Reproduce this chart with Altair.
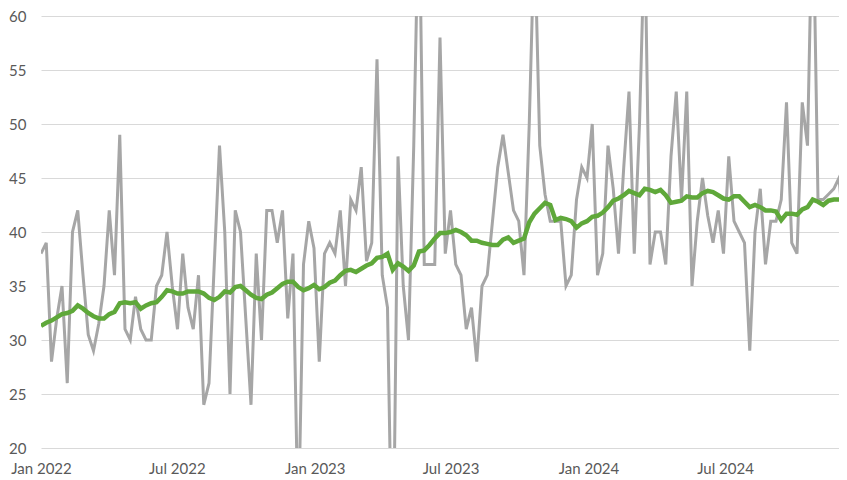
import altair as alt
import pandas as pd

start_date = "2022-01-01"
x_domain = ["2022-01-01", "2024-11-30"]
tick_dates = ["2022-01-01", "2022-07-01", "2023-01-01", "2023-07-01", "2024-01-01", "2024-07-01"]
y_ticks = [20, 25, 30, 35, 40, 45, 50, 55, 60]

weekly = [
    38, 39, 28, 32, 35, 26, 40, 42, 36, 30.5, 29, 31.5, 35, 42, 36, 49, 31, 30, 34, 31,
    30, 30, 35, 36, 40, 35, 31, 38, 33, 31, 36, 24, 26, 37, 48, 40, 25, 42, 40, 32,
    24, 38, 30, 42, 42, 39, 42, 32, 38, 12, 37, 41, 38.5, 28, 38, 39, 38, 42, 35, 43,
    42, 46, 37.3, 39, 56, 36, 33, 5, 47, 35, 30, 48, 72, 37, 37, 37, 58, 38, 42, 37,
    36, 31, 33, 28, 35, 36, 41, 46, 49, 45.5, 42, 41, 36, 50, 68, 48, 43.5, 41, 41, 41,
    35, 36, 43, 46, 45, 50, 36, 38, 48, 44, 38, 46, 53, 38, 50, 68, 37, 40, 40, 37,
    47, 53, 43, 53, 35, 41, 45, 41.5, 39, 42, 38, 47, 41, 40, 39, 29, 40, 44, 37, 41,
    41, 43, 52, 39, 38, 52, 48, 72, 43, 43, 43.5, 44, 45, 39.5,
]

trend = [
    31.3, 31.6, 31.8, 32.1, 32.4, 32.5, 32.7, 33.2, 32.9, 32.5, 32.2, 32.0, 32.0, 32.4, 32.6, 33.4, 33.5, 33.4, 33.5, 32.9,
    33.2, 33.4, 33.5, 34.0, 34.6, 34.5, 34.3, 34.3, 34.5, 34.5, 34.5, 34.3, 33.9, 33.7, 34.0, 34.5, 34.4, 34.9, 35.0, 34.6,
    34.2, 33.9, 33.8, 34.2, 34.4, 34.8, 35.2, 35.4, 35.4, 34.9, 34.6, 34.8, 35.1, 34.7, 34.9, 35.3, 35.5, 36.0, 36.4, 36.5,
    36.3, 36.6, 36.9, 37.1, 37.6, 37.7, 38.0, 36.5, 37.1, 36.8, 36.4, 36.9, 38.2, 38.3, 38.8, 39.4, 39.9, 39.9, 40.0, 40.2,
    40.0, 39.7, 39.2, 39.2, 39.0, 38.9, 38.8, 38.8, 39.3, 39.5, 39.0, 39.2, 39.4, 40.9, 41.7, 42.2, 42.7, 42.5, 41.1, 41.3,
    41.2, 41.0, 40.4, 40.8, 41.0, 41.4, 41.5, 41.8, 42.3, 42.9, 43.1, 43.4, 43.8, 43.6, 43.4, 44.0, 43.9, 43.7, 43.9, 43.4,
    42.7, 42.8, 42.9, 43.3, 43.2, 43.2, 43.6, 43.8, 43.7, 43.4, 43.1, 43.0, 43.3, 43.3, 42.8, 42.3, 42.5, 42.3, 42.0, 42.0,
    41.9, 41.1, 41.7, 41.7, 41.6, 42.1, 42.3, 43.0, 42.8, 42.5, 42.9, 43.0, 43.0, 43.0,
]

dates = pd.date_range(start_date, periods=len(weekly), freq="7D")
df = pd.DataFrame({"date": dates, "weekly": weekly, "trend": trend})

FONT = "Lato"
LABEL_COLOR = "#595959"

x_enc = alt.X(
    "date:T",
    title=None,
    scale=alt.Scale(domain=x_domain),
    axis=alt.Axis(
        values=[alt.DateTime(year=int(d[:4]), month=int(d[5:7]), date=1) for d in tick_dates],
        format="%b %Y",
        grid=False,
        ticks=False,
        tickSize=0,
        domain=False,
        labelFont=FONT,
        labelFontSize=15,
        labelColor=LABEL_COLOR,
        labelPadding=13,
        labelAlign="center",
        labelOverlap=False,
        labelBound=False,
        labelFlush=False,
    ),
)

y_scale = alt.Scale(domain=[20, 60], nice=False, zero=False)
y_axis = alt.Axis(
    values=y_ticks,
    grid=True,
    gridColor="#d9d9d9",
    gridWidth=1,
    ticks=False,
    tickSize=0,
    domain=False,
    labelFont=FONT,
    labelFontSize=15,
    labelColor=LABEL_COLOR,
    labelPadding=15,
)

base = alt.Chart(df)

gray = base.mark_line(clip=True, color="#a6a6a6", strokeWidth=3).encode(
    x=x_enc,
    y=alt.Y("weekly:Q", title=None, scale=y_scale, axis=y_axis),
)

green = base.mark_line(clip=True, color="#5fa83a", strokeWidth=4.5).encode(
    x=x_enc,
    y=alt.Y("trend:Q", title=None, scale=y_scale, axis=y_axis),
)

chart = (
    alt.layer(gray, green)
    .properties(
        width=798,
        height=432,
        autosize=alt.AutoSizeParams(type="none"),
        padding={"left": 33, "top": 8, "right": 0, "bottom": 30},
    )
    .configure_view(stroke=None)
)

chart.save("out.html", embed_options={"renderer": "svg", "actions": False})
